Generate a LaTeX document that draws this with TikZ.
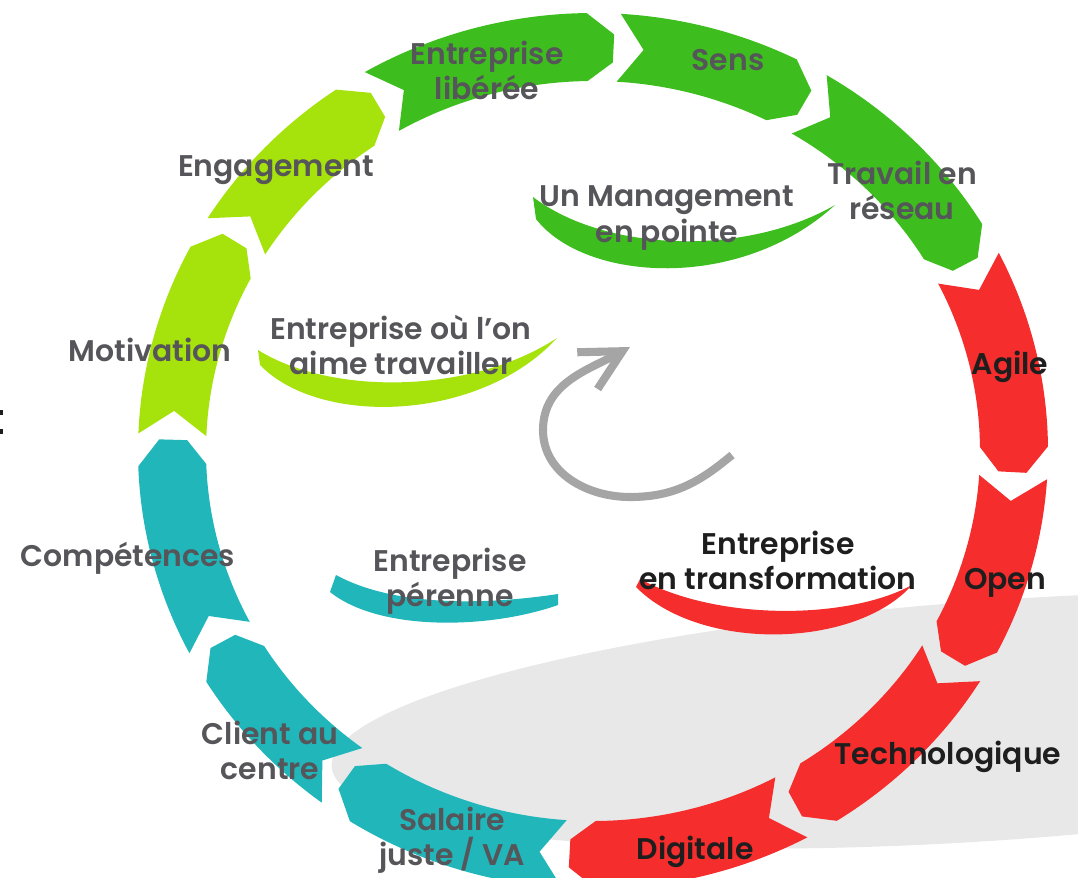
\documentclass[tikz,border=0pt]{standalone}
\usepackage{fontspec}
\setmainfont{Poppins}[BoldFont={* SemiBold}]
\usetikzlibrary{arrows.meta}

\definecolor{ringgreen}{RGB}{62,190,30}
\definecolor{ringlime}{RGB}{166,226,12}
\definecolor{ringred}{RGB}{245,45,45}
\definecolor{ringteal}{RGB}{32,182,186}
\definecolor{shadowgray}{RGB}{232,232,232}
\definecolor{arrowgray}{RGB}{165,165,165}
\definecolor{labelgray}{RGB}{85,85,90}
\definecolor{labeldark}{RGB}{30,30,30}

% one notched arrow of the ring: tail angle, head angle, colour
\newcommand{\ringarrow}[3]{%
\fill[#3] ({#1-0.3}:4.55 and 4.38) arc[start angle={#1-0.3}, end angle={#2+4}, x radius=4.55, y radius=4.38]
  -- ({#2+0.4}:4.34 and 4.17) -- ({#2+0.4}:4.06 and 3.89) -- ({#2+4}:3.87 and 3.70)
  arc[start angle={#2+4}, end angle={#1-0.3}, x radius=3.87, y radius=3.70]
  -- ({#1-3.7}:4.21 and 4.04) -- cycle;}

\tikzset{
  ringlabel/.style={font=\fontsize{8.5}{10}\selectfont\bfseries, text=labelgray, align=center, inner sep=0pt},
  redlabel/.style={ringlabel, text=labeldark}
}

\begin{document}
\begin{tikzpicture}
\useasboundingbox (0,0) rectangle (10.78,8.77);
\clip (0,0) rectangle (10.78,8.77);
% shadow
\fill[shadowgray, rotate around={4:(10.00,1.57)}] (10.00,1.57) ellipse [x radius=6.70, y radius=1.20];
\fill[labeldark] (0,4.62) rectangle (0.03,4.67);
\fill[labeldark] (0,4.43) rectangle (0.03,4.48);
% ring
\begin{scope}[shift={(5.93,4.26)}]
\ringarrow{120.4}{86.8}{ringgreen}
\ringarrow{86.8}{59.4}{ringgreen}
\ringarrow{59.4}{27.2}{ringgreen}
\ringarrow{27.2}{-3.4}{ringred}
\ringarrow{-3.4}{-31.4}{ringred}
\ringarrow{-31.4}{-61.6}{ringred}
\ringarrow{-61.6}{-93.6}{ringred}
\ringarrow{-93.6}{-126.3}{ringteal}
\ringarrow{-126.3}{-152.2}{ringteal}
\ringarrow{-152.2}{-182}{ringteal}
\ringarrow{-182}{-211.8}{ringlime}
\ringarrow{-211.8}{-239.6}{ringlime}
\end{scope}
% inner bands
\fill[ringgreen] (5.33,6.80) -- (5.36,6.58) .. controls (5.85,5.95) and (7.40,5.85) .. (8.35,6.72)
  .. controls (7.45,6.20) and (6.05,6.25) .. cycle;
\fill[ringlime] (2.58,5.27) -- (2.60,5.12) .. controls (3.20,4.50) and (4.80,4.55) .. (5.57,5.39)
  .. controls (4.70,4.82) and (3.30,4.82) .. cycle;
\fill[ringteal] (3.36,3.02) -- (3.30,2.85) .. controls (3.80,2.45) and (4.90,2.48) .. (5.58,2.72)
  -- (5.58,2.83) .. controls (4.85,2.72) and (3.95,2.70) .. cycle;
\fill[ringred] (6.40,2.98) -- (6.36,2.90) .. controls (7.00,2.25) and (8.55,2.28) .. (9.12,2.92)
  .. controls (8.50,2.58) and (7.20,2.55) .. cycle;
% turning arrow
\draw[arrowgray, line width=2.3pt, -{Straight Barb[length=4mm, width=4.2mm]}] (7.32,4.22)
  to[out=-140, in=0] (6.30,3.80) to[out=180, in=-90] (5.43,4.47) to[out=90, in=209] (6.30,5.30);
% labels on the ring
\node[ringlabel] (liberee) at (4.87,8.07) {Entreprise\\libérée};
\node[ringlabel] (sens) at (7.28,8.17) {Sens};
\node[ringlabel] (reseau) at (9.02,6.87) {Travail en\\réseau};
\node[redlabel] (agile) at (10.10,5.10) {Agile};
\node[redlabel] (open) at (10.05,2.94) {Open};
\node[redlabel] (techno) at (9.48,1.20) {Technologique};
\node[redlabel] (digitale) at (6.95,0.25) {Digitale};
\node[ringlabel] (salaire) at (4.52,0.37) {Salaire\\juste / VA};
\node[ringlabel] (client) at (2.70,1.27) {Client au\\centre};
\node[ringlabel] (competences) at (1.28,3.19) {Compétences};
\node[ringlabel] (motivation) at (1.50,5.27) {Motivation};
\node[ringlabel] (engagement) at (2.76,7.07) {Engagement};
% labels inside
\node[ringlabel] (management) at (6.67,6.59) {Un Management\\en pointe};
\node[ringlabel] (aime) at (4.01,5.32) {Entreprise où l'on\\aime travailler};
\node[ringlabel] (perenne) at (4.50,2.96) {Entreprise\\pérenne};
\node[redlabel] (transfo) at (7.78,3.17) {Entreprise\\en transformation};
\end{tikzpicture}
\end{document}
